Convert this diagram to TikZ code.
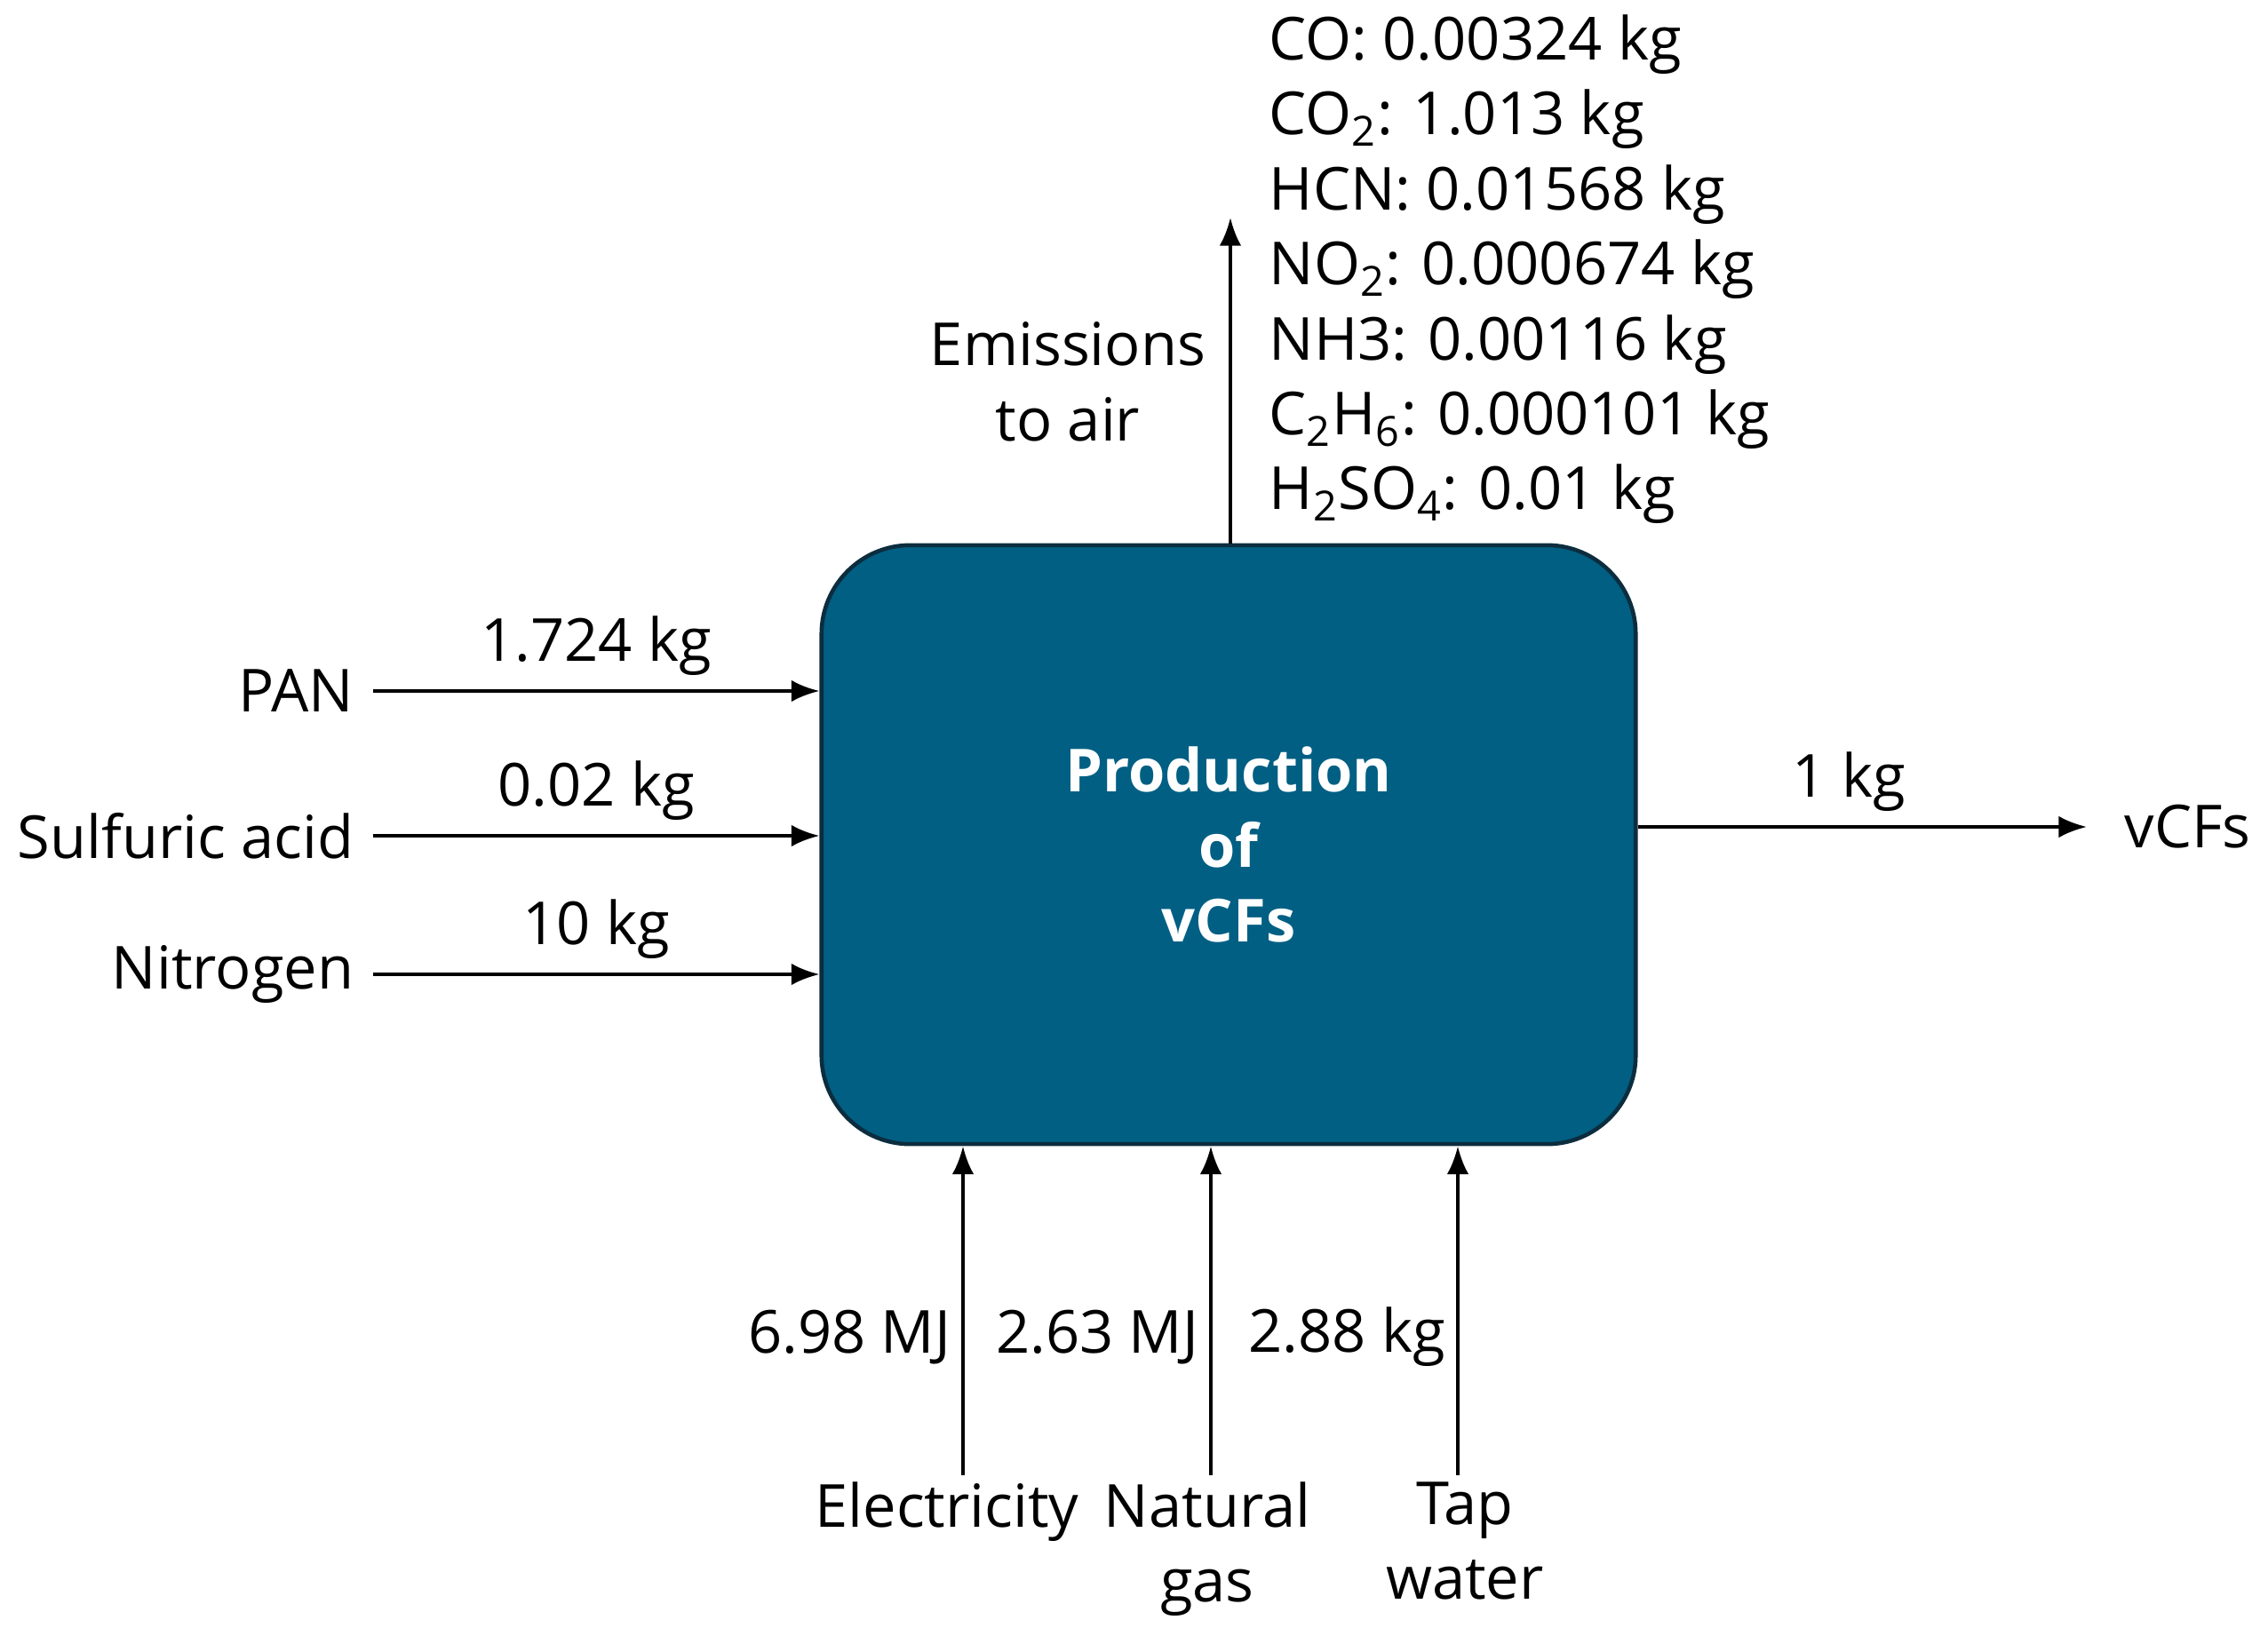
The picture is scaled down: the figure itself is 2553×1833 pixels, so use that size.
\documentclass[tikz,border=0pt]{standalone}
\usepackage{fontspec}
\setmainfont{Open Sans}
\usetikzlibrary{arrows.meta,positioning}
\definecolor{procblue}{RGB}{0,95,131}
\definecolor{procedge}{RGB}{12,45,62}

\begin{document}
\begin{tikzpicture}[x=0.01cm,y=-0.01cm,
  every node/.style={font=\fontsize{19}{24}\selectfont},
  flow/.style={draw,line width=1.2pt,-{Latex[length=9pt,width=7pt]}},
  process/.style={draw=procedge,line width=1.3pt,fill=procblue,
    rounded corners=1cm,minimum width=9.16cm,minimum height=6.74cm,
    text=white,align=center,font=\fontsize{19}{24}\selectfont\bfseries},
  inlabel/.style={anchor=east,inner sep=6pt},
  amount/.style={above=1pt,midway}]
\useasboundingbox (0,0) rectangle (2553,1833);

% process box
\node[process] (proc) at (1383,951) {Production\\of\\vCFs};

% inputs from the left
\node[inlabel] (pan) at (420,778) {PAN};
\node[inlabel] (acid) at (420,941) {Sulfuric acid};
\node[inlabel] (nitro) at (420,1097) {Nitrogen};
\draw[flow] (pan.east) -- (pan.east -| proc.west) node[amount] {1.724 kg};
\draw[flow] (acid.east) -- (acid.east -| proc.west) node[amount] {0.02 kg};
\draw[flow] (nitro.east) -- (nitro.east -| proc.west) node[amount] {10 kg};

% product
\node[anchor=west,inner xsep=0.42cm] (vcf) at (2349,931) {vCFs};
\draw[flow] (vcf.west -| proc.east) -- (vcf.west) node[above=1pt,pos=0.47] {1 kg};

% emissions to air
\coordinate (emtop) at (1385,245);
\draw[flow] (proc.north -| emtop) -- (emtop);
\node[align=center] (emlabel) at (1202,430) {Emissions\\to air};
\node[anchor=north west,align=left,inner sep=0pt] (emlist) at (1428,16) {%
  CO: 0.00324 kg\\
  CO\textsubscript{2}: 1.013 kg\\
  HCN: 0.01568 kg\\
  NO\textsubscript{2}: 0.000674 kg\\
  NH3: 0.00116 kg\\
  C\textsubscript{2}H\textsubscript{6}: 0.000101 kg\\
  H\textsubscript{2}SO\textsubscript{4}: 0.01 kg};

% utilities from below
\coordinate (elec) at (1084,1661);
\coordinate (gas) at (1363,1661);
\coordinate (water) at (1641,1661);
\draw[flow] (elec) -- (elec |- proc.south) node[left,pos=0.42] {6.98 MJ};
\draw[flow] (gas) -- (gas |- proc.south) node[left,pos=0.42] {2.63 MJ};
\draw[flow] (water) -- (water |- proc.south) node[left,pos=0.42] {2.88 kg};
\node[anchor=north,align=center] (eleclabel) at (1066,1656) {Electricity};
\node[anchor=north,align=center] (gaslabel) at (1359,1656) {Natural\\gas};
\node[anchor=north,align=center] (waterlabel) at (1649,1656) {Tap\\water};
\end{tikzpicture}
\end{document}
